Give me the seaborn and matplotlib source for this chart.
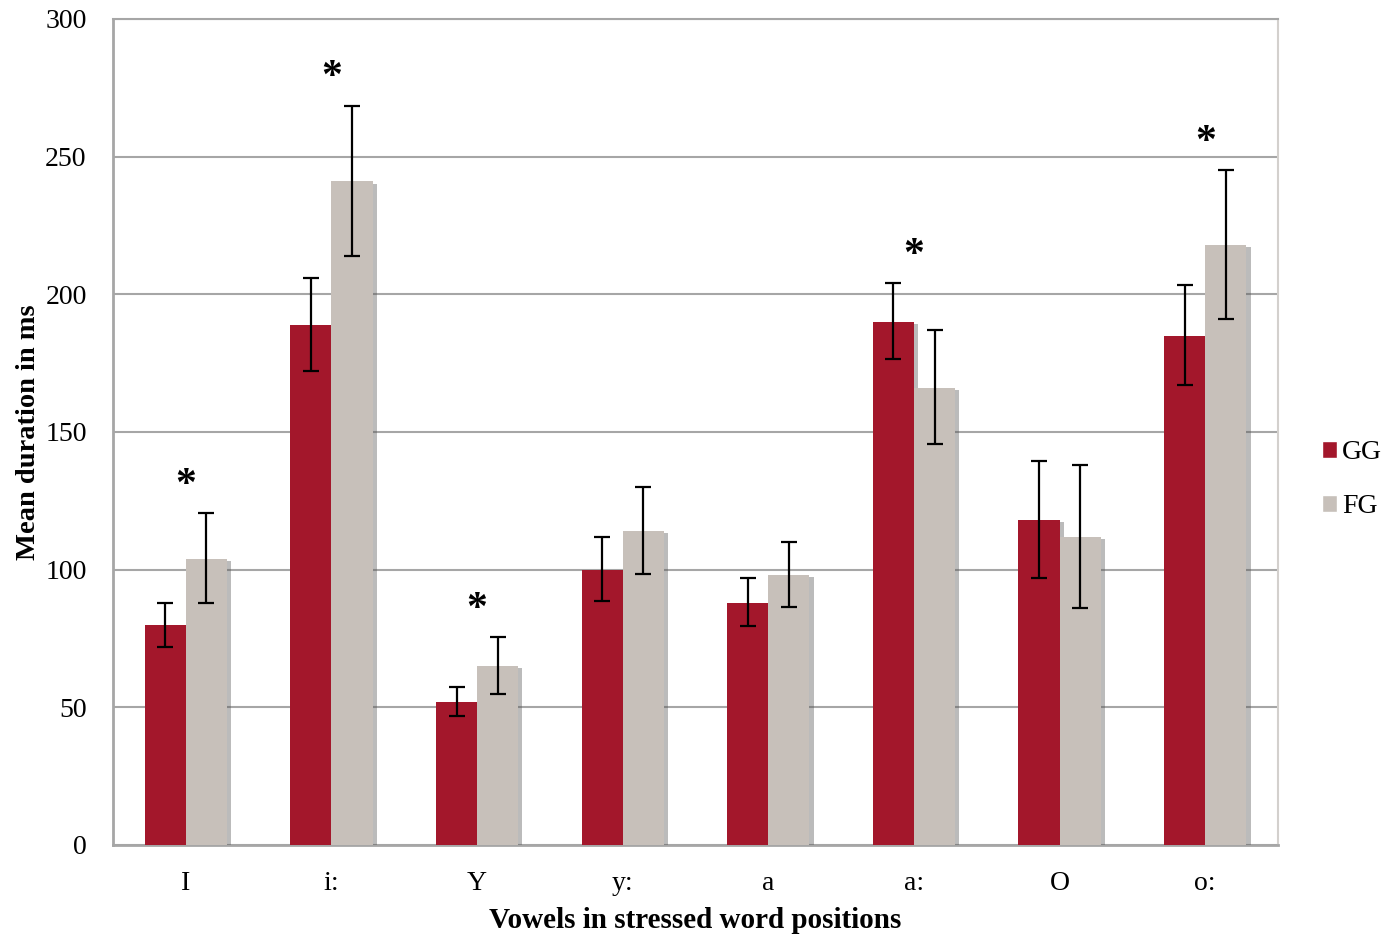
import pandas as pd
import numpy as np
import matplotlib
matplotlib.use("Agg")
import matplotlib.pyplot as plt
import matplotlib.patheffects as pe
from matplotlib.patches import Patch
import seaborn as sns

# data
vowels = ["I", "i:", "Y", "y:", "a", "a:", "O", "o:"]
gg_mean = [80, 189, 52, 100, 88, 190, 118, 185]
gg_low = [72, 172, 47, 88.5, 79.5, 176.5, 97, 167]
gg_high = [88, 206, 57.5, 112, 97, 204, 139.5, 203.5]
fg_mean = [104, 241, 65, 114, 98, 166, 112, 218]
fg_low = [88, 214, 55, 98.5, 86.5, 145.5, 86, 191]
fg_high = [120.5, 268.5, 75.5, 130, 110, 187, 138, 245]
significant = ["I", "i:", "Y", "a:", "o:"]

gg_color = "#A3172B"
fg_color = "#C7C0BA"

df = pd.DataFrame({
    "vowel": vowels * 2,
    "group": ["GG"] * len(vowels) + ["FG"] * len(vowels),
    "mean": gg_mean + fg_mean,
})

sns.set_style("white")
plt.rcParams["font.family"] = ["Liberation Serif", "DejaVu Serif"]
plt.rcParams["text.color"] = "black"
plt.rcParams["axes.labelcolor"] = "black"
plt.rcParams["xtick.labelcolor"] = "black"
plt.rcParams["ytick.labelcolor"] = "black"

fig = plt.figure(figsize=(13.94, 9.35), dpi=100)
ax = fig.add_axes([0.0811, 0.0963, 0.8357, 0.8834])

sns.barplot(data=df, x="vowel", y="mean", hue="group", order=vowels,
            hue_order=["GG", "FG"], palette=[gg_color, fg_color],
            saturation=1, width=0.565, errorbar=None, ax=ax, legend=False,
            zorder=3)

shadow = [pe.SimplePatchShadow(offset=(3, -1.5), shadow_rgbFace="#555555", alpha=0.4),
          pe.Normal()]
for cont in ax.containers:
    for bar in cont:
        bar.set_edgecolor("none")
        bar.set_path_effects(shadow)

# error bars at the bar centres
for cont, mean, lo, hi in zip(ax.containers, [gg_mean, fg_mean],
                              [gg_low, fg_low], [gg_high, fg_high]):
    xs = [b.get_x() + b.get_width() / 2 for b in cont]
    mean = np.array(mean)
    yerr = [mean - np.array(lo), np.array(hi) - mean]
    ax.errorbar(xs, mean, yerr=yerr, fmt="none", ecolor="black",
                elinewidth=1.6, capsize=6, capthick=1.6, zorder=5)

# significance stars
for i, v in enumerate(vowels):
    if v in significant:
        top = max(gg_high[i], fg_high[i])
        ax.text(i, top + 10, "*", ha="center", va="center", fontsize=30,
                fontweight="bold", color="black", zorder=6)

ax.set_ylim(0, 300)
ax.set_xlim(-0.5, len(vowels) - 0.5)
ax.set_yticks(np.arange(0, 301, 50))
ax.yaxis.grid(True, color="#A6A6A6", linewidth=1.5, zorder=0)
ax.set_axisbelow(True)

ax.set_xticks(np.arange(-0.5, len(vowels), 1), minor=True)
ax.tick_params(axis="x", which="major", length=0, labelsize=20, pad=19)
ax.tick_params(axis="x", which="minor", length=7, width=1.8, color="#A6A6A6",
               direction="out")
ax.tick_params(axis="y", which="major", length=7, width=1.8, color="#A6A6A6",
               direction="out", labelsize=20, pad=12)

for side in ["left", "bottom"]:
    ax.spines[side].set_color("#A6A6A6")
    ax.spines[side].set_linewidth(2)
ax.spines["top"].set_color("#A6A6A6")
ax.spines["top"].set_linewidth(1.5)
ax.spines["right"].set_color("#D3D0CD")
ax.spines["right"].set_linewidth(1.5)

ax.set_xlabel("Vowels in stressed word positions", fontsize=21,
              fontweight="bold", labelpad=8)
ax.set_ylabel("Mean duration in ms", fontsize=20.5, fontweight="bold",
              labelpad=3)

handles = [Patch(facecolor=gg_color, label="GG"),
           Patch(facecolor=fg_color, label="FG")]
fig.legend(handles=handles, loc="center left", bbox_to_anchor=(0.948, 0.487),
           frameon=False, fontsize=20, handlelength=0.55, handleheight=0.55,
           handletextpad=0.2, labelspacing=1.05, borderaxespad=0,
           borderpad=0)

fig.savefig("out.png", dpi=100)
